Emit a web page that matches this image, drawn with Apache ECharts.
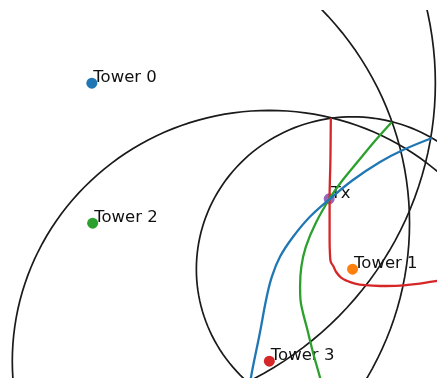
<!DOCTYPE html>
<html>
<head>
	<meta http-equiv="Content-Type" content="text/html;charset=utf-8">
	<title>Tower TDOA</title>
	<style>
		html, body { margin: 0; padding: 0; background: #fff; }
		#chart { width: 437px; height: 378px; }
	</style>
</head>
<body>
<div id="chart"></div>
<script src="https://cdn.jsdelivr.net/npm/echarts@6/dist/echarts.min.js"></script>
<script>
	// towers and transmitter (km)
	var towerNames = ['Tower 0', 'Tower 1', 'Tower 2', 'Tower 3'];
	var towerX = [22.4, 86.0, 22.6, 65.7];
	var towerY = [73.7, 27.2, 38.7, 4.2];
	var circleR = [83.8, 38.1, 77.3, 62.7];
	var txX = 80.3;
	var txY = 44.8;

	// hyperbola branches
	var redX = [80.7, 80.6, 80.4, 80.4, 80.5, 80.7, 81.3, 82.0, 83.2, 84.6, 86.6, 89.0, 92.7, 97.6, 102.4, 106.6, 109.8];
	var redY = [65.0, 54.5, 44.8, 34.5, 30.8, 29.0, 28.0, 26.5, 25.1, 24.3, 23.6, 23.2, 23.0, 23.1, 23.6, 24.3, 24.8];
	var greenX = [95.6, 91.5, 87.6, 83.6, 80.5, 77.0, 74.6, 73.5, 73.2, 73.3, 73.9, 74.8, 76.4, 78.1, 78.9];
	var greenY = [64.0, 59.3, 54.5, 49.5, 45.0, 38.7, 32.8, 27.8, 22.8, 19.5, 16.3, 12.8, 6.2, 0.0, -3.3];
	var blueX = [105.4, 98.3, 92.7, 86.1, 80.5, 75.6, 71.5, 68.3, 66.3, 64.9, 63.4, 61.7, 61.2, 60.7];
	var blueY = [60.0, 57.0, 54.0, 49.5, 44.8, 40.3, 35.3, 30.3, 25.3, 19.5, 11.3, 2.8, 0.0, -3.0];

	var colors = ['#1f77b4', '#ff7f0e', '#2ca02c', '#d62728', '#9467bd'];

	function pairs(xs, ys){
		var out = [];
		for (var i = 0; i < xs.length; i++) out.push([xs[i], ys[i]]);
		return out;
	}

	var circleData = [];
	var towerData = [];
	for (var i = 0; i < towerNames.length; i++) {
		circleData.push([towerX[i], towerY[i], circleR[i]]);
		towerData.push({ name: towerNames[i], value: [towerX[i], towerY[i]], itemStyle: { color: colors[i] } });
	}
	towerData.push({ name: 'Tx', value: [txX, txY], itemStyle: { color: colors[4] } });

	function hyperbola(xs, ys, color){
		return {
			type: 'line',
			data: pairs(xs, ys),
			smooth: 0.4,
			showSymbol: false,
			z: 4,
			lineStyle: { color: color, width: 2.3 },
			silent: true
		};
	}

	var option = {
		animation: false,
		grid: { left: 0, right: 0, top: 10, bottom: 0 },
		xAxis: { type: 'value', min: 0, max: 106.6, show: false },
		yAxis: { type: 'value', min: 0, max: 92, show: false },
		series: [
			{
				type: 'scatter',
				data: towerData,
				symbolSize: 11,
				z: 2,
				itemStyle: { opacity: 1 },
				label: {
					show: true,
					formatter: '{b}',
					position: [7, 9],
					align: 'left',
					verticalAlign: 'bottom',
					fontFamily: 'DejaVu Sans',
					fontSize: 16.5,
					color: '#111'
				}
			},
			{
				type: 'custom',
				clip: true,
				z: 3,
				data: circleData,
				renderItem: function(params, api){
					var cx = api.value(0), cy = api.value(1), r = api.value(2);
					var pts = [];
					for (var a = 0; a <= 360; a += 2) {
						var t = a * Math.PI / 180;
						pts.push(api.coord([cx + r * Math.cos(t), cy + r * Math.sin(t)]));
					}
					return {
						type: 'polyline',
						shape: { points: pts },
						style: { stroke: '#1a1a1a', lineWidth: 1.7, fill: null }
					};
				}
			},
			hyperbola(redX, redY, colors[3]),
			hyperbola(greenX, greenY, colors[2]),
			hyperbola(blueX, blueY, colors[0])
		]
	};

	var myChart = echarts.init(document.getElementById('chart'));
	myChart.setOption(option);
</script>
</body>
</html>
